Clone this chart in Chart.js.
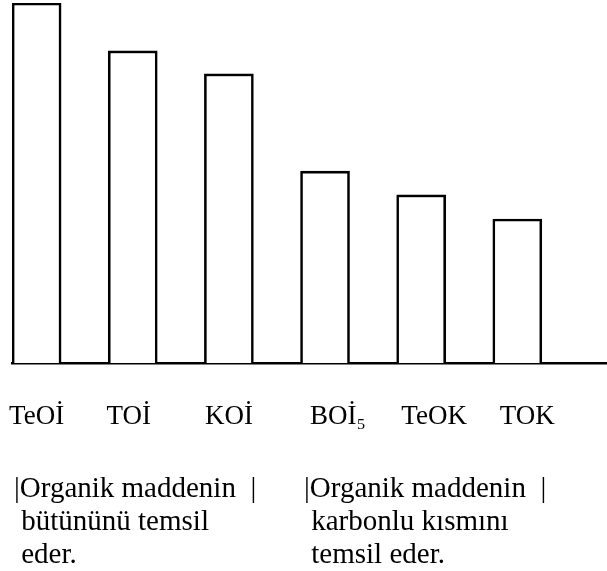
<!DOCTYPE html>
<html>
<head>
<meta charset="utf-8">
<script src="https://cdn.jsdelivr.net/npm/chart.js@4.4.1/dist/chart.umd.min.js"></script>
<style>
  html, body { margin: 0; padding: 0; background: #fff; }
  #wrap { position: relative; width: 607px; height: 571px; }
  .note { position: absolute; font-family: "Liberation Serif", "Times New Roman", serif;
          font-size: 29px; line-height: 33px; color: #000; white-space: pre; }
</style>
</head>
<body>
<div id="wrap">
  <canvas id="c" width="607" height="571"></canvas>
  <div class="note" id="noteL" style="left:14px; top:471px;"></div>
  <div class="note" id="noteR" style="left:304px; top:471px;"></div>
</div>
<script>
// ---- data ----
const categories = ["TeOİ", "TOİ", "KOİ", "BOİ₅", "TeOK", "TOK"];
const values = [100, 86.7, 80.3, 53.3, 46.7, 40];
const noteLeftLines = ["|Organik maddenin  |", " bütününü temsil", " eder."];
const noteRightLines = ["|Organik maddenin  |", " karbonlu kısmını", " temsil eder."];

// ---- layout (not data) ----
const labelShiftPx = [0, -4, 0, 13, 13, 10];
const STEP_PX = 96.14;

document.getElementById('noteL').textContent = noteLeftLines.join('\n');
document.getElementById('noteR').textContent = noteRightLines.join('\n');

const chart = new Chart(document.getElementById('c'), {
  type: 'bar',
  data: {
    datasets: [{
      data: values.map((v, i) => ({ x: i, y: v })),
      backgroundColor: '#ffffff',
      borderColor: '#000000',
      borderWidth: 2.6,
      barThickness: 49
    }]
  },
  options: {
    responsive: false,
    animation: false,
    events: [],
    layout: { padding: { left: 12, right: 0, top: 3, bottom: 0 } },
    plugins: { legend: { display: false }, tooltip: { enabled: false } },
    scales: {
      x: {
        type: 'linear',
        offset: false,
        min: -0.256,
        max: 5.933,
        grid: { display: false, drawTicks: false, offset: false },
        border: { display: true, color: '#000', width: 2.5 },
        afterBuildTicks: (s) => {
          s.ticks = categories.map((c, i) => ({ value: i + labelShiftPx[i] / STEP_PX }));
        },
        afterFit: (s) => { s.height = 208; s.paddingLeft = 0; s.paddingRight = 0; },
        ticks: {
          autoSkip: false,
          maxRotation: 0,
          padding: 38,
          color: '#000',
          font: { family: 'Liberation Serif', size: 27 },
          callback: (v, i) => categories[i]
        }
      },
      y: {
        display: false,
        min: 0,
        max: 100
      }
    }
  }
});
</script>
</body>
</html>
